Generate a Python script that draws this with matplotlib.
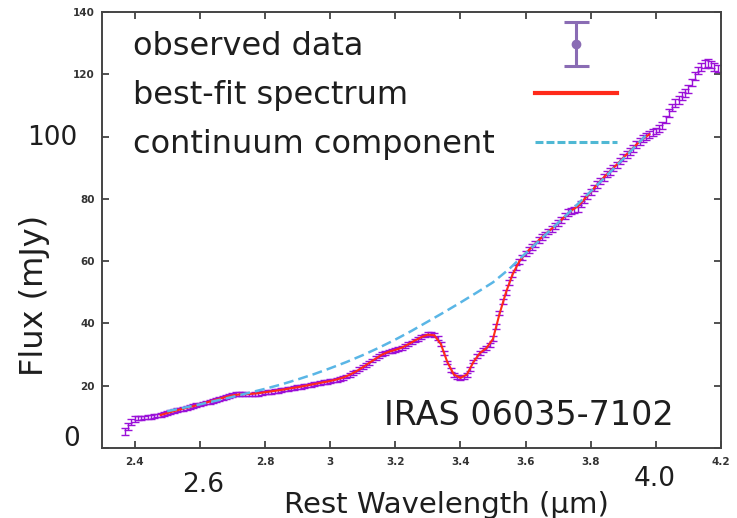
import matplotlib
matplotlib.use("Agg")
import matplotlib.pyplot as plt
import numpy as np
from matplotlib.legend_handler import HandlerErrorbar
from matplotlib.container import ErrorbarContainer
from matplotlib.lines import Line2D
from matplotlib.transforms import blended_transform_factory

# ---------------- data ----------------
wavelength = [
    2.37, 2.38, 2.39, 2.40, 2.41, 2.42, 2.43, 2.44, 2.45, 2.46, 2.47, 2.48, 2.49,
    2.50, 2.51, 2.52, 2.53, 2.54, 2.55, 2.56, 2.57, 2.58, 2.59,
    2.60, 2.61, 2.62, 2.63, 2.64, 2.65, 2.66, 2.67, 2.68, 2.69,
    2.70, 2.71, 2.72, 2.73, 2.74, 2.75, 2.76, 2.77, 2.78, 2.79,
    2.80, 2.81, 2.82, 2.83, 2.84, 2.85, 2.86, 2.87, 2.88, 2.89,
    2.90, 2.91, 2.92, 2.93, 2.94, 2.95, 2.96, 2.97, 2.98, 2.99,
    3.00, 3.01, 3.02, 3.03, 3.04, 3.05, 3.06, 3.07, 3.08, 3.09,
    3.10, 3.11, 3.12, 3.13, 3.14, 3.15, 3.16, 3.17, 3.18, 3.19,
    3.20, 3.21, 3.22, 3.23, 3.24, 3.25, 3.26, 3.27, 3.28, 3.29,
    3.30, 3.31, 3.32, 3.33, 3.34, 3.35, 3.36, 3.37, 3.38, 3.39,
    3.40, 3.41, 3.42, 3.43, 3.44, 3.45, 3.46, 3.47, 3.48, 3.49,
    3.50, 3.51, 3.52, 3.53, 3.54, 3.55, 3.56, 3.57, 3.58, 3.59,
    3.60, 3.61, 3.62, 3.63, 3.64, 3.65, 3.66, 3.67, 3.68, 3.69,
    3.70, 3.71, 3.72, 3.73, 3.74, 3.75, 3.76, 3.77, 3.78, 3.79,
    3.80, 3.81, 3.82, 3.83, 3.84, 3.85, 3.86, 3.87, 3.88, 3.89,
    3.90, 3.91, 3.92, 3.93, 3.94, 3.95, 3.96, 3.97, 3.98, 3.99,
    4.00, 4.01, 4.02, 4.03, 4.04, 4.05, 4.06, 4.07, 4.08, 4.09,
    4.10, 4.11, 4.12, 4.13, 4.14, 4.15, 4.16, 4.17, 4.18, 4.19,
]
flux_obs = [
    5.2, 7.0, 8.4, 9.3, 9.6, 9.7, 9.8, 9.9, 10.0, 10.2, 10.4, 10.6, 10.9,
    11.2, 11.5, 11.8, 12.1, 12.4, 12.6, 12.9, 13.1, 13.4, 13.7,
    14.0, 14.3, 14.6, 14.8, 15.1, 15.4, 15.7, 16.0, 16.4, 16.8,
    17.1, 17.3, 17.4, 17.4, 17.3, 17.2, 17.2, 17.3, 17.4, 17.6,
    17.8, 18.0, 18.1, 18.2, 18.4, 18.6, 18.8, 19.0, 19.1, 19.3,
    19.5, 19.7, 19.9, 20.1, 20.3, 20.5, 20.7, 20.9, 21.1, 21.3,
    21.5, 21.7, 21.9, 22.2, 22.6, 23.0, 23.5, 24.0, 24.6, 25.3,
    26.0, 26.7, 27.4, 28.1, 28.8, 29.5, 30.1, 30.6, 31.0, 31.2,
    31.4, 31.7, 32.2, 32.7, 33.3, 33.9, 34.5, 35.1, 35.6, 36.1,
    36.5, 36.6, 36.3, 35.4, 33.5, 30.5, 27.5, 25.0, 23.5, 22.8,
    22.6, 22.7, 23.5, 25.3, 27.8, 29.5, 30.6, 31.4, 32.1, 33.0,
    35.2, 39.0, 43.3, 47.0, 50.0, 53.0, 55.8, 58.0, 59.8, 61.2,
    62.5, 63.6, 64.6, 65.6, 66.7, 67.7, 68.6, 69.5, 70.3, 71.2,
    72.2, 73.3, 74.5, 75.6, 76.2, 76.5, 76.9, 78.4, 79.8, 81.0,
    82.2, 83.4, 84.6, 85.8, 86.9, 87.9, 88.8, 89.8, 91.0, 92.2,
    93.3, 94.3, 95.2, 96.3, 97.5, 98.5, 99.3, 100.0, 100.6, 101.2,
    101.8, 102.6, 103.6, 105.5, 107.5, 109.4, 110.8, 111.8, 113.0, 114.0,
    115.3, 117.3, 119.5, 121.3, 122.4, 123.3, 123.6, 123.2, 122.4, 121.8,
]
flux_err = [
    1.1, 1.1, 1.0, 0.9, 0.7, 0.6, 0.6, 0.6, 0.6, 0.6, 0.6, 0.6, 0.6,
    0.6, 0.6, 0.6, 0.6, 0.6, 0.6, 0.6, 0.6, 0.6, 0.6,
    0.6, 0.6, 0.6, 0.6, 0.6, 0.6, 0.6, 0.6, 0.6, 0.6,
    0.6, 0.6, 0.6, 0.6, 0.6, 0.6, 0.6, 0.6, 0.6, 0.6,
    0.6, 0.6, 0.6, 0.6, 0.6, 0.6, 0.6, 0.6, 0.6, 0.6,
    0.6, 0.6, 0.6, 0.6, 0.6, 0.6, 0.6, 0.6, 0.6, 0.6,
    0.6, 0.6, 0.6, 0.6, 0.6, 0.6, 0.6, 0.6, 0.6, 0.6,
    0.6, 0.6, 0.6, 0.6, 0.6, 0.6, 0.6, 0.6, 0.6, 0.6,
    0.6, 0.6, 0.6, 0.6, 0.6, 0.6, 0.6, 0.6, 0.6, 0.6,
    0.6, 0.6, 0.6, 0.6, 0.6, 0.6, 0.6, 0.6, 0.6, 0.6,
    0.6, 0.6, 0.6, 0.6, 0.6, 0.6, 0.6, 0.6, 0.6, 0.6,
    0.7, 0.7, 0.7, 0.7, 0.8, 0.8, 0.8, 0.8, 0.8, 0.8,
    0.9, 0.9, 0.9, 0.9, 0.9, 0.9, 0.9, 0.9, 0.9, 0.9,
    1.0, 1.0, 1.0, 1.0, 1.0, 1.0, 1.0, 1.0, 1.0, 1.0,
    1.0, 1.0, 1.0, 1.0, 1.0, 1.0, 1.0, 1.0, 1.0, 1.0,
    1.1, 1.1, 1.1, 1.1, 1.1, 1.1, 1.1, 1.1, 1.1, 1.1,
    1.1, 1.1, 1.1, 1.2, 1.2, 1.2, 1.2, 1.2, 1.2, 1.2,
    1.2, 1.2, 1.2, 1.2, 1.2, 1.2, 1.2, 1.2, 1.2, 1.2,
]

fit_wavelength = [
    2.48, 2.50, 2.52, 2.54, 2.56, 2.58, 2.60, 2.62, 2.64, 2.66, 2.68,
    2.70, 2.72, 2.74, 2.76, 2.78, 2.80, 2.82, 2.84, 2.86, 2.88,
    2.90, 2.92, 2.94, 2.96, 2.98, 3.00, 3.02, 3.04, 3.06, 3.08,
    3.10, 3.12, 3.14, 3.16, 3.18, 3.20, 3.22, 3.24, 3.26, 3.28,
    3.30, 3.32, 3.34, 3.36, 3.38, 3.40, 3.42, 3.44, 3.46, 3.48,
    3.50, 3.52, 3.54, 3.56, 3.58, 3.60, 3.62, 3.64, 3.66, 3.68,
    3.70, 3.72, 3.74, 3.76, 3.78, 3.80, 3.82, 3.84, 3.86, 3.88,
    3.90, 3.92, 3.94, 3.96, 3.98,
]
flux_fit = [
    10.6, 11.2, 11.8, 12.4, 12.9, 13.4, 14.0, 14.6, 15.2, 15.8, 16.4,
    16.9, 17.2, 17.3, 17.4, 17.6, 17.9, 18.2, 18.5, 18.8, 19.2,
    19.5, 19.9, 20.3, 20.7, 21.1, 21.5, 22.0, 22.6, 23.5, 24.6,
    25.9, 27.3, 28.7, 30.0, 30.9, 31.5, 32.2, 33.3, 34.5, 35.6,
    36.4, 36.2, 33.4, 27.6, 23.6, 22.5, 23.6, 27.6, 30.5, 32.1,
    35.0, 43.0, 50.0, 55.7, 59.8, 62.5, 64.6, 66.7, 68.6, 70.4,
    72.2, 74.3, 76.2, 77.6, 79.8, 82.2, 84.6, 86.9, 88.9, 91.0,
    93.2, 95.3, 97.4, 99.3, 100.7,
]

cont_wavelength = [
    2.50, 2.55, 2.60, 2.65, 2.70, 2.75, 2.80, 2.85, 2.90, 2.95,
    3.00, 3.05, 3.10, 3.15, 3.20, 3.25, 3.30, 3.35, 3.40, 3.45,
    3.50, 3.55, 3.60, 3.65, 3.70, 3.75, 3.80, 3.85, 3.90, 3.95, 3.98,
]
flux_cont = [
    11.8, 12.9, 14.0, 15.2, 16.4, 17.7, 19.0, 20.4, 22.0, 23.7,
    25.6, 27.6, 29.8, 32.2, 34.8, 37.6, 40.6, 43.6, 46.7, 49.9,
    53.2, 57.5, 62.5, 67.4, 72.3, 77.3, 82.4, 87.6, 92.9, 98.3, 101.5,
]

xticks = [2.4, 2.6, 2.8, 3.0, 3.2, 3.4, 3.6, 3.8, 4.0, 4.2]
xticklabels = ["2.4", "", "2.8", "3", "3.2", "3.4", "3.6", "3.8", "", "4.2"]
yticks = [0, 20, 40, 60, 80, 100, 120, 140]
yticklabels = ["", "20", "40", "60", "80", "", "120", "140"]
big_xlabels = [(2.609, "2.6"), (3.997, "4.0")]
big_ylabels = [(0.6, "0"), (97.2, "100")]

legend_labels = ["observed data", "best-fit spectrum", "continuum component"]
object_name = "IRAS 06035-7102"

# ---------------- style ----------------
plt.rcParams["font.family"] = ["DejaVu Sans"]
TXT = "#1e1e1e"

fig = plt.figure(figsize=(7.37, 5.18), dpi=100)
ax = fig.add_axes([0.1384, 0.1351, 0.8399, 0.8417])

data_color = "#9a10d8"
fit_color = "#ff2a1a"
cont_color = "#5ab6e6"

ax.errorbar(wavelength, flux_obs, yerr=flux_err, fmt="none",
            ecolor=data_color, elinewidth=1.0, capsize=3.0, capthick=1.0,
            zorder=2)
ax.plot(fit_wavelength, flux_fit, color=fit_color, lw=1.5, zorder=3)
ax.plot(cont_wavelength, flux_cont, color=cont_color, lw=1.8,
        linestyle=(0, (4, 2)), zorder=4)

ax.set_xlim(2.3, 4.2)
ax.set_ylim(0, 140)
ax.set_xticks(xticks)
ax.set_xticklabels(xticklabels)
ax.set_yticks(yticks)
ax.set_yticklabels(yticklabels)
ax.tick_params(direction="in", length=5, width=1.2, color="#333333",
               top=True, right=True, labelsize=7.5)
ax.tick_params(axis="x", pad=6.5)
ax.tick_params(axis="y", pad=5)
for lab in ax.get_xticklabels() + ax.get_yticklabels():
    lab.set_fontweight("bold")
    lab.set_color("#333333")
for sp in ax.spines.values():
    sp.set_linewidth(1.4)
    sp.set_color("#444444")

ax.set_xlabel("Rest Wavelength (\u03bcm)", fontsize=21, color=TXT)
ax.xaxis.label.set_va("baseline")
ax.xaxis.set_label_coords(0.557, -0.150)
ax.set_ylabel("Flux (mJy)", fontsize=23, color=TXT)
ax.yaxis.label.set_va("baseline")
ax.yaxis.set_label_coords(-0.0953, 0.349)

# large overlaid tick numbers
tx = blended_transform_factory(ax.transData, ax.transAxes)
ty = blended_transform_factory(ax.transAxes, ax.transData)
for (xv, s), yy in zip(big_xlabels, [-0.101, -0.087]):
    ax.text(xv, yy, s, transform=tx, ha="center", va="baseline", fontsize=19,
            color=TXT, clip_on=False)
for (yv, s), xx in zip(big_ylabels, [-0.0485, -0.081]):
    ax.text(xx, yv, s, transform=ty, ha="center", va="baseline", fontsize=19,
            color=TXT, clip_on=False)

ax.text(0.690, 0.053, object_name, transform=ax.transAxes, ha="center",
        va="baseline", fontsize=24, color=TXT)

# legend: labels left-aligned in the first column, keys in the second
h_obs = ax.errorbar([np.nan], [np.nan], yerr=[1.0], fmt="o", color="#8a6cb4",
                    ms=6, elinewidth=2.2, capsize=9, capthick=2.2)
h_fit, = ax.plot([np.nan], [np.nan], color=fit_color, lw=3.0)
h_cont, = ax.plot([np.nan], [np.nan], color="#4fb8d4", lw=2.2,
                  linestyle=(0, (2.6, 1.0)))
blank = [Line2D([], [], linestyle="none") for _ in legend_labels]
leg = ax.legend(blank + [h_obs, h_fit, h_cont],
                legend_labels + [" "] * 3,
                ncols=2, loc="upper left", bbox_to_anchor=(-0.147, 0.956),
                frameon=False, fontsize=23, markerfirst=True,
                handlelength=2.56, handletextpad=1.25, columnspacing=1.28,
                labelspacing=0.56, borderpad=0, borderaxespad=0,
                handler_map={ErrorbarContainer: HandlerErrorbar(yerr_size=0.69)})
for t in leg.get_texts():
    t.set_color(TXT)

fig.savefig("out.png", dpi=100)
